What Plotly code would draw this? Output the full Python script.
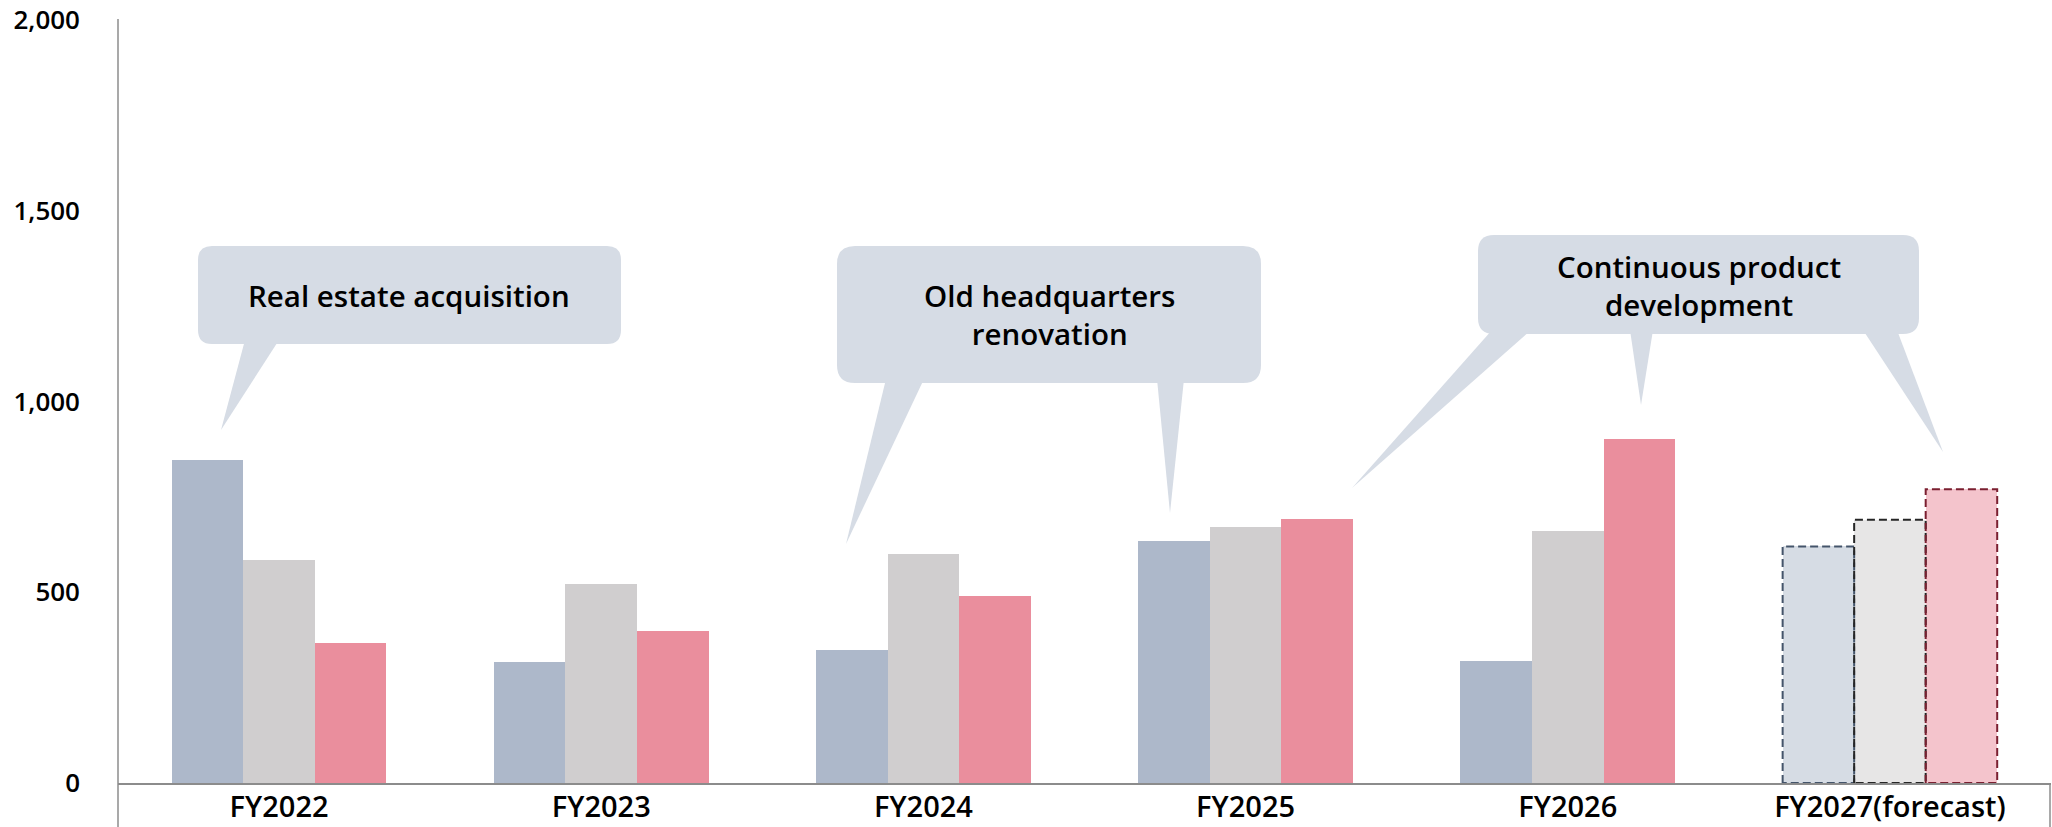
import plotly.graph_objects as go

# ---- data -------------------------------------------------------------
categories = ["FY2022", "FY2023", "FY2024", "FY2025", "FY2026", "FY2027(forecast)"]
series_a = [846, 318, 349, 634, 319, 620]
series_b = [584, 521, 599, 671, 660, 690]
series_c = [366, 398, 491, 692, 901, 770]
y_ticks = [0, 500, 1000, 1500, 2000]

# ---- styling ------------------------------------------------------------
W, H = 2052, 827
ML, MR, MT, MB = 118, 1, 20, 44
PW, PH = W - ML - MR, H - MT - MB
FONT = "Open Sans"

actual_colors = ["#ADB8CA", "#D0CECF", "#EA8E9D"]
forecast_colors = ["#D6DCE4", "#E7E6E6", "#F4C4CC"]
forecast_edges = ["#44546A", "#262626", "#7A1F30"]
callout_fill = "#D6DCE5"
axis_grey = "#8C8C8C"

bar_w = 0.222
offsets = [-bar_w, 0.0, bar_w]
n = len(categories)
forecast_idx = n - 1

fig = go.Figure()

for k, vals in enumerate([series_a, series_b, series_c]):
    colors = [actual_colors[k]] * n
    colors[forecast_idx] = forecast_colors[k]
    fig.add_trace(go.Bar(
        x=[i + offsets[k] for i in range(n)],
        y=vals,
        width=bar_w,
        marker=dict(color=colors, line=dict(width=0)),
        showlegend=False,
        hoverinfo="y",
    ))

# dashed outline around forecast bars
for k, vals in enumerate([series_a, series_b, series_c]):
    c = forecast_idx + offsets[k]
    v = vals[forecast_idx]
    x0, x1 = c - bar_w / 2, c + bar_w / 2
    fig.add_trace(go.Scatter(
        x=[x0, x0, x1, x1, x0],
        y=[0, v, v, 0, 0],
        mode="lines",
        line=dict(color=forecast_edges[k], width=2, dash="8px,4px"),
        showlegend=False,
        hoverinfo="skip",
        cliponaxis=False,
    ))


# ---- callout bubbles (pixel layout helpers) -----------------------------
def px(x):
    return (x - ML) / PW


def py(y):
    return (H - MB - y) / PH


def rounded_box(x0, y0, x1, y1, r):
    pts = [
        f"M {px(x0 + r)},{py(y0)}",
        f"L {px(x1 - r)},{py(y0)}",
        f"Q {px(x1)},{py(y0)} {px(x1)},{py(y0 + r)}",
        f"L {px(x1)},{py(y1 - r)}",
        f"Q {px(x1)},{py(y1)} {px(x1 - r)},{py(y1)}",
        f"L {px(x0 + r)},{py(y1)}",
        f"Q {px(x0)},{py(y1)} {px(x0)},{py(y1 - r)}",
        f"L {px(x0)},{py(y0 + r)}",
        f"Q {px(x0)},{py(y0)} {px(x0 + r)},{py(y0)}",
        "Z",
    ]
    return " ".join(pts)


def tail(a, b, tip, y_base):
    return (f"M {px(a)},{py(y_base - 4)} L {px(b)},{py(y_base - 4)} "
            f"L {px(tip[0])},{py(tip[1])} Z")


callouts = [
    dict(box=(198, 246, 621, 344), r=14,
         tails=[(245, 279, (221, 430))],
         text="Real estate acquisition", center=(409, 295)),
    dict(box=(837, 246, 1261, 383), r=18,
         tails=[(886, 924, (846, 544)), (1157, 1184, (1170, 513))],
         text="Old headquarters<br>renovation", center=(1049, 314)),
    dict(box=(1478, 235, 1919, 334), r=16,
         tails=[(1492, 1531, (1352, 488)), (1630, 1653, (1641, 405)),
                (1863, 1897, (1943, 452))],
         text="Continuous product<br>development", center=(1699, 285)),
]

shapes = []
annotations = []
for co in callouts:
    x0, y0, x1, y1 = co["box"]
    shapes.append(dict(type="path", xref="paper", yref="paper",
                       path=rounded_box(x0, y0, x1, y1, co["r"]),
                       fillcolor=callout_fill, line=dict(width=0), layer="above"))
    for a, b, tip in co["tails"]:
        shapes.append(dict(type="path", xref="paper", yref="paper",
                           path=tail(a, b, tip, y1),
                           fillcolor=callout_fill, line=dict(width=0), layer="above"))
    annotations.append(dict(
        xref="paper", yref="paper", x=px(co["center"][0]), y=py(co["center"][1]),
        text=co["text"], showarrow=False, xanchor="center", yanchor="middle",
        font=dict(family=FONT, size=29.5, color="#000000", weight=600),
    ))

# value axis line running past the baseline, and the end mark on the right
shapes.append(dict(type="line", xref="paper", yref="paper",
                   x0=0, x1=0, y0=py(H), y1=py(19),
                   line=dict(color=axis_grey, width=1.5), layer="above"))
shapes.append(dict(type="line", xref="paper", yref="paper",
                   x0=px(2050), x1=px(2050), y0=py(H), y1=py(783),
                   line=dict(color=axis_grey, width=1.5), layer="above"))

fig.update_layout(
    width=W, height=H,
    margin=dict(l=ML, r=MR, t=MT, b=MB, pad=0, autoexpand=False),
    paper_bgcolor="white", plot_bgcolor="white",
    bargap=0, barmode="overlay",
    shapes=shapes, annotations=annotations,
    font=dict(family=FONT, color="#000000"),
    xaxis=dict(
        range=[-0.5, n - 0.5], tickvals=list(range(n)), ticktext=categories,
        showgrid=False, zeroline=False, showline=True,
        linecolor=axis_grey, linewidth=2, ticks="", automargin=False,
        ticklabelstandoff=-3,
        tickfont=dict(family=FONT, size=29, color="#000000", weight=600),
        fixedrange=True,
    ),
    yaxis=dict(
        range=[0, 2000], tickvals=y_ticks, tickformat=",d",
        showgrid=False, zeroline=False, showline=False, ticks="",
        ticklabelstandoff=37, automargin=False,
        tickfont=dict(family=FONT, size=26, color="#000000", weight=600),
        fixedrange=True,
    ),
)

fig.write_html("out.html")
